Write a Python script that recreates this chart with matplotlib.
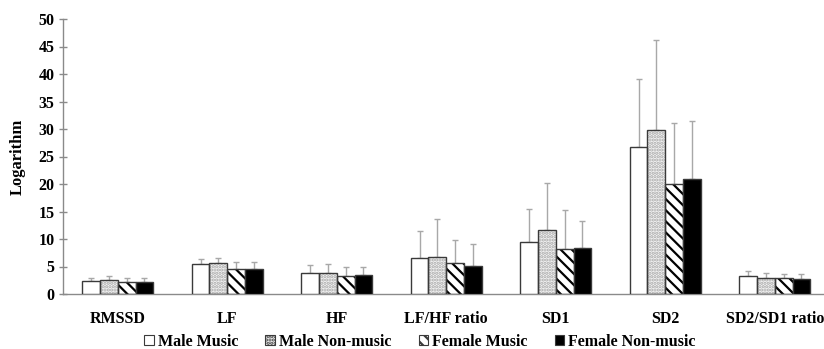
import matplotlib
matplotlib.use("Agg")
import matplotlib.pyplot as plt
import numpy as np
from matplotlib.patches import Patch

plt.rcParams['font.family'] = ['Liberation Serif', 'DejaVu Serif']
plt.rcParams['font.weight'] = 'bold'
plt.rcParams['hatch.linewidth'] = 1.6

categories = ["RMSSD", "LF", "HF", "LF/HF ratio", "SD1", "SD2", "SD2/SD1 ratio"]
series_names = ["Male Music", "Male Non-music", "Female Music", "Female Non-music"]

male_music = [2.3, 5.4, 3.8, 6.6, 9.5, 26.7, 3.3]
male_music_err = [0.7, 0.9, 1.4, 4.8, 5.9, 12.4, 0.8]
male_nonmusic = [2.5, 5.6, 3.9, 6.8, 11.6, 29.8, 2.9]
male_nonmusic_err = [0.7, 0.9, 1.5, 6.8, 8.5, 16.3, 1.0]
female_music = [2.1, 4.6, 3.2, 5.7, 8.2, 20.0, 2.9]
female_music_err = [0.8, 1.3, 1.7, 4.2, 7.1, 11.1, 0.8]
female_nonmusic = [2.2, 4.6, 3.4, 5.1, 8.4, 21.0, 2.8]
female_nonmusic_err = [0.7, 1.2, 1.5, 4.0, 4.9, 10.5, 0.8]

values = [male_music, male_nonmusic, female_music, female_nonmusic]
errors = [male_music_err, male_nonmusic_err, female_music_err, female_nonmusic_err]

fig = plt.figure(figsize=(8.24, 3.49), dpi=100)
ax = fig.add_axes([63/824, 55/349, 766.5/824, 275/349])

edge = '#3a3a3a'
styles = [
    dict(facecolor='white', hatch=None, hatchcolor=None),
    dict(facecolor='#f4f4f4', hatch='.....', hatchcolor='#a8a8a8'),
    dict(facecolor='white', hatch='\\\\\\', hatchcolor='black'),
    dict(facecolor='black', hatch=None, hatchcolor=None),
]

x = np.arange(len(categories))
w = 0.1625
offsets = (np.arange(4) - 1.5) * w

for k in range(4):
    st = styles[k]
    pos = x + offsets[k]
    if st['hatch']:
        ax.bar(pos, values[k], w, color=st['facecolor'], edgecolor=st['hatchcolor'],
               hatch=st['hatch'], linewidth=0, zorder=2)
        ax.bar(pos, values[k], w, fill=False, edgecolor=edge, linewidth=1.0, zorder=3)
    else:
        ax.bar(pos, values[k], w, color=st['facecolor'], edgecolor=edge, linewidth=1.0, zorder=3)
    ax.errorbar(pos, values[k], yerr=[np.zeros(len(categories)), errors[k]], fmt='none',
                ecolor='#a8a8a8', elinewidth=1.0, capsize=2.5, capthick=1.0, zorder=1)

ax.set_xlim(-0.5, 6.5)
ax.set_ylim(0, 50)
ax.set_yticks(np.arange(0, 51, 5))
ax.set_xticks(x)
ax.set_xticklabels(categories, fontsize=11.5, fontweight='bold')
ax.tick_params(axis='x', length=0, pad=12)
ax.tick_params(axis='y', direction='inout', length=6, width=1, color='#8a8a8a', pad=3,
               labelsize=11.5)
for s in ['top', 'right']:
    ax.spines[s].set_visible(False)
for s in ['left', 'bottom']:
    ax.spines[s].set_color('#8a8a8a')
    ax.spines[s].set_linewidth(1.0)
ax.set_ylabel("Logarithm", fontsize=12, fontweight='bold', labelpad=9)

handles = []
for k in range(4):
    st = styles[k]
    handles.append(Patch(facecolor=st['facecolor'], edgecolor=edge, hatch=st['hatch'], linewidth=0.8))
fig.legend(handles, series_names, loc='center', bbox_to_anchor=(420/824, 7/349), ncol=4,
           frameon=False, handlelength=0.6, handleheight=0.6, handletextpad=0.25,
           columnspacing=1.7, prop={'size': 11.5, 'weight': 'bold'})

fig.savefig("out.png", dpi=100)
